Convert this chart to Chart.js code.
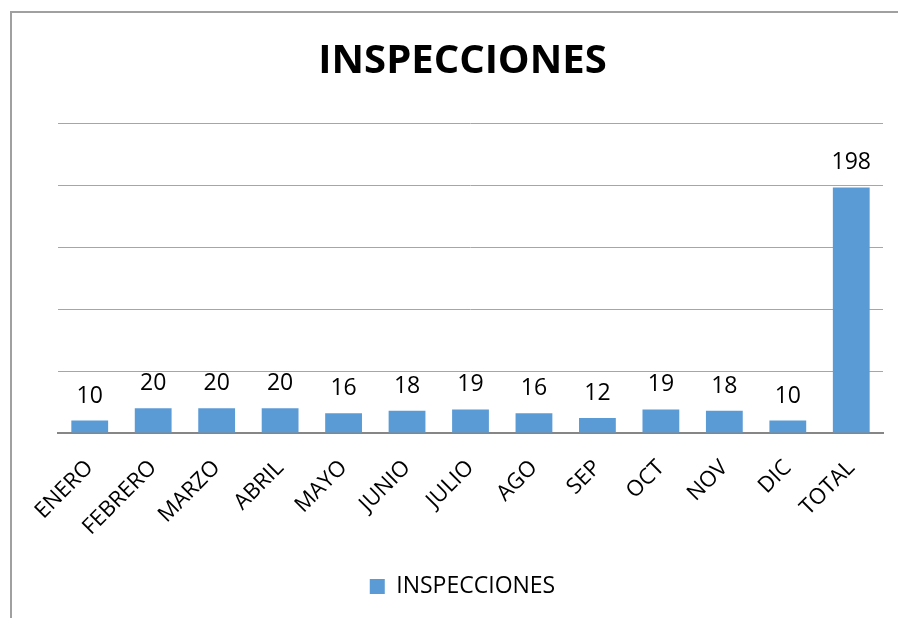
<!DOCTYPE html>
<html><head><meta charset="utf-8">
<script src="https://cdn.jsdelivr.net/npm/chart.js@4"></script>
<style>
html,body{margin:0;padding:0;background:#fff;}
#wrap{position:relative;width:898px;height:618px;overflow:hidden;}
#frame{position:absolute;left:10px;top:11px;width:1000px;height:1000px;border-left:2px solid #a0a0a0;border-top:2px solid #a0a0a0;}
canvas{position:absolute;left:0;top:0;}
</style></head>
<body><div id="wrap"><div id="frame"></div><canvas id="c" width="898" height="618"></canvas></div>
<script>
const categories = ["ENERO","FEBRERO","MARZO","ABRIL","MAYO","JUNIO","JULIO","AGO","SEP","OCT","NOV","DIC","TOTAL"];
const inspecciones = [10,20,20,20,16,18,19,16,12,19,18,10,198];
const seriesName = "INSPECCIONES";
const titleText = "INSPECCIONES";

const valueLabels = {
  id:'valueLabels',
  afterDatasetsDraw(chart){
    const ctx = chart.ctx;
    const meta = chart.getDatasetMeta(0);
    ctx.save();
    ctx.font = '23px "Open Sans"';
    ctx.fillStyle = '#000';
    ctx.textAlign = 'center';
    ctx.textBaseline = 'alphabetic';
    meta.data.forEach((bar,i)=>{
      ctx.fillText(String(chart.data.datasets[0].data[i]), bar.x, bar.y - 18);
    });
    ctx.restore();
  }
};

new Chart(document.getElementById('c'), {
  type:'bar',
  data:{labels:categories, datasets:[{label:seriesName, data:inspecciones, backgroundColor:'#5B9BD5', barPercentage:0.58, categoryPercentage:1}]},
  options:{
    responsive:false, animation:false,
    layout:{padding:{left:42,right:15,top:38,bottom:10}},
    plugins:{
      title:{display:true,text:titleText,color:'#000',font:{family:'"Open Sans"',size:40,weight:'bold'},padding:{top:0,bottom:37}},
      legend:{position:'bottom',labels:{color:'#000',font:{family:'"Open Sans"',size:23},boxWidth:15,boxHeight:15,padding:22}},
      tooltip:{enabled:false}
    },
    scales:{
      x:{grid:{display:false},border:{color:'#868686',width:2},
         afterFit(scale){ scale.height = 120; },
         ticks:{color:'#000',font:{family:'"Open Sans"',size:22},maxRotation:45,minRotation:45,padding:14}},
      y:{min:0,max:250,afterFit(scale){ scale.width = 16; },
         ticks:{display:false,stepSize:50},grid:{color:'#a6a6a6',drawTicks:false},border:{display:false}}
    }
  },
  plugins:[valueLabels]
});
</script></body></html>
